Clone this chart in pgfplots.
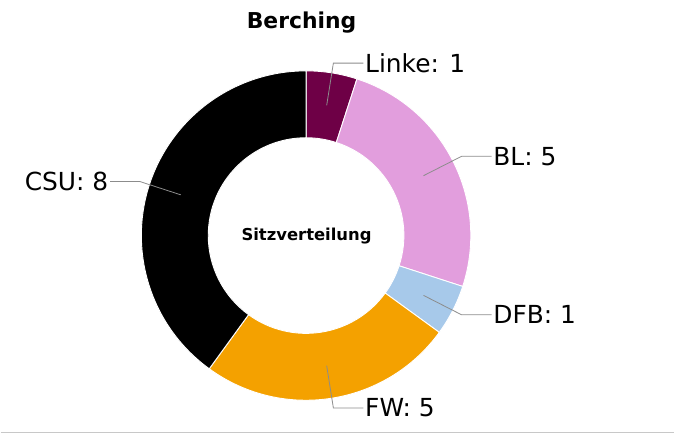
\documentclass[border=0pt]{standalone}
\usepackage{fontspec}
\setmainfont{DejaVu Sans}
\usepackage{pgfplots}
\usepackage{pgfplotstable}
\pgfplotsset{compat=1.18}
\definecolor{cLinke}{HTML}{6E0046}
\definecolor{cBL}{HTML}{E29EDD}
\definecolor{cDFB}{HTML}{A7C9EA}
\definecolor{cFW}{HTML}{F4A100}
\definecolor{cCSU}{HTML}{000000}
\definecolor{leader}{HTML}{8C8C8C}
\definecolor{frameline}{HTML}{C8C8C8}
\newcommand\lblfont{\fontsize{25}{30}\selectfont}
\pgfplotstableread{
party seats color
Linke 1 cLinke
BL 5 cBL
DFB 1 cDFB
FW 5 cFW
CSU 8 cCSU
}\seats

\begin{document}
\begin{tikzpicture}
\begin{axis}[scale only axis, width=675bp, height=434bp,
  xmin=0, xmax=675, ymin=0, ymax=434, hide axis, clip=false]
\path (axis cs:0,0) rectangle (axis cs:675,434);
\def\cx{306}\def\cy{198}\def\Ro{165}\def\Ri{98}
\pgfplotstablegetrowsof{\seats}
\pgfmathtruncatemacro\nrows{\pgfplotsretval-1}
\gdef\total{0}
\pgfplotsforeachungrouped \i in {0,...,\nrows}{%
  \pgfplotstablegetelem{\i}{seats}\of\seats
  \pgfmathsetmacro\tmp{\total+\pgfplotsretval}\xdef\total{\tmp}}
% wedges
\gdef\acc{90}
\pgfplotsforeachungrouped \i in {0,...,\nrows}{%
  \pgfplotstablegetelem{\i}{seats}\of\seats \let\sv\pgfplotsretval
  \pgfplotstablegetelem{\i}{color}\of\seats \let\col\pgfplotsretval
  \pgfmathsetmacro\aA{\acc}
  \pgfmathsetmacro\aB{\acc-360*\sv/\total}
  \pgfmathsetmacro\xo{\cx+\Ro*cos(\aA)}\pgfmathsetmacro\yo{\cy+\Ro*sin(\aA)}
  \pgfmathsetmacro\xin{\cx+\Ri*cos(\aB)}\pgfmathsetmacro\yin{\cy+\Ri*sin(\aB)}
  \edef\cmd{\noexpand\fill[\col, draw=white, line width=0.9bp]
    (axis cs:\xo,\yo) arc[start angle=\aA, end angle=\aB, radius=\Ro bp]
    -- (axis cs:\xin,\yin) arc[start angle=\aB, end angle=\aA, radius=\Ri bp] -- cycle;}%
  \cmd
  \xdef\acc{\aB}}
% leaders and labels
\gdef\acc{90}
\pgfplotsforeachungrouped \i in {0,...,\nrows}{%
  \pgfplotstablegetelem{\i}{seats}\of\seats \let\sv\pgfplotsretval
  \pgfplotstablegetelem{\i}{party}\of\seats \let\pname\pgfplotsretval
  \pgfmathsetmacro\aA{\acc}
  \pgfmathsetmacro\aB{\acc-360*\sv/\total}
  \pgfmathsetmacro\aM{(\aA+\aB)/2}
  \pgfmathsetmacro\cM{cos(\aM)}\pgfmathsetmacro\sM{sin(\aM)}
  \pgfmathsetmacro\px{\cx+0.8*\Ro*\cM}\pgfmathsetmacro\py{\cy+0.8*\Ro*\sM}
  \pgfmathsetmacro\kx{\cx+1.06*\Ro*\cM}\pgfmathsetmacro\ky{\cy+1.06*\Ro*\sM}
  \ifdim\cM pt>0pt \def\anc{west}\def\sg{1}\else\def\anc{east}\def\sg{-1}\fi
  \pgfmathsetmacro\tx{\kx+30*\sg}
  \edef\cmd{\noexpand\draw[leader, line width=0.8bp]
    (axis cs:\px,\py) -- (axis cs:\kx,\ky) -- (axis cs:\tx,\ky)
    node[anchor=\anc, inner sep=1.5bp, text=black]{\noexpand\lblfont \pname: \sv};}%
  \cmd
  \xdef\acc{\aB}}
\node[anchor=base] at (axis cs:301.5,405) {\fontsize{22}{26}\selectfont\bfseries Berching};
\node[anchor=base] at (axis cs:306.5,193.5) {\fontsize{16.5}{19}\selectfont\bfseries Sitzverteilung};
\draw[frameline, line width=1.3bp] (axis cs:0,1) -- (axis cs:675,1);
\end{axis}
\end{tikzpicture}
\end{document}
